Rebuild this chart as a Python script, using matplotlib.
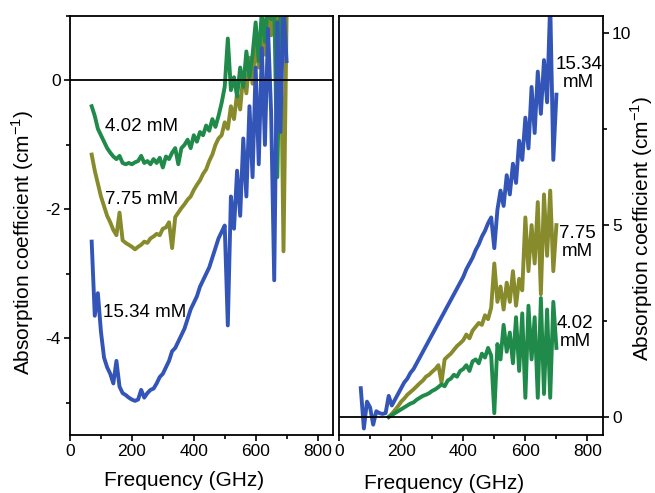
import numpy as np
import matplotlib
matplotlib.use("Agg")
import matplotlib.pyplot as plt
from matplotlib.ticker import MultipleLocator

plt.rcParams['font.family'] = ['Liberation Sans', 'DejaVu Sans']
plt.rcParams['mathtext.fontset'] = 'custom'
plt.rcParams['mathtext.rm'] = 'Liberation Sans'
plt.rcParams['axes.unicode_minus'] = False

# frequency grid (GHz)
freq = np.arange(70, 701, 10)

# left panel: absorption change, cm^-1
left_402 = [-0.40, -0.55, -0.75, -0.85, -0.95, -1.05, -1.12, -1.18, -1.22, -1.17,
            -1.28, -1.30, -1.28, -1.30, -1.27, -1.25, -1.17, -1.28, -1.25, -1.30,
            -1.22, -1.28, -1.20, -1.35, -1.18, -1.22, -1.12, -1.05, -1.30, -1.05,
            -1.00, -0.92, -1.05, -0.85, -0.95, -0.80, -0.85, -0.70, -0.78, -0.60,
            -0.72, -0.55, -0.35, -0.10, 0.65, -0.15, 0.05, -0.25, 0.20, -0.10,
            0.45, 0.05, 0.40, 0.90, 0.30, 1.10, 0.60, 1.20, 0.95, 1.20,
            -1.50, 1.20, 1.30, 1.30]
left_775 = [-1.15, -1.40, -1.60, -1.80, -1.95, -2.10, -2.20, -2.32, -2.40, -2.05,
            -2.48, -2.52, -2.55, -2.58, -2.62, -2.58, -2.55, -2.50, -2.52, -2.45,
            -2.42, -2.38, -2.40, -2.30, -2.28, -2.20, -2.60, -2.12, -2.05, -1.98,
            -1.92, -1.85, -1.80, -1.70, -1.62, -1.55, -1.45, -1.38, -1.25, -1.15,
            -1.00, -0.90, -0.85, -0.65, -0.75, -0.40, -0.60, -0.20, -0.45, 0.10,
            -0.20, 0.35, -0.05, 0.60, 0.20, 0.90, 0.40, 1.10, 0.70, 1.20,
            0.80, 1.20, -2.65, 1.00]
left_1534 = [-2.50, -3.65, -3.30, -3.90, -4.30, -4.45, -4.55, -4.70, -4.35, -4.75,
             -4.85, -4.88, -4.92, -4.95, -4.97, -4.95, -4.80, -4.92, -4.85, -4.80,
             -4.78, -4.70, -4.60, -4.55, -4.45, -4.35, -4.20, -4.15, -4.05, -3.95,
             -3.85, -3.70, -3.55, -3.45, -3.35, -3.20, -3.10, -3.00, -2.90, -2.75,
             -2.60, -2.45, -2.35, -2.25, -3.80, -1.80, -2.30, -1.40, -2.10, -0.90,
             -1.80, -0.40, -1.50, 0.20, -1.30, 0.50, -1.00, 0.80, -0.50, -3.10,
             0.90, -0.80, 1.20, 0.30]

# right panel: absorption, cm^-1
nan = np.nan
right_402 = [nan] * 9 + [
    0.00, 0.05, 0.10, 0.15, 0.20, 0.25, 0.30, 0.35, 0.38, 0.45,
    0.50, 0.55, 0.58, 0.62, 0.68, 0.72, 0.78, 0.85, 0.80, 0.95,
    1.00, 1.10, 1.05, 1.20, 1.25, 1.35, 1.20, 1.45, 1.50, 1.40,
    1.65, 1.55, 1.80, 1.60, 0.10, 1.90, 1.50, 2.40, 1.70, 2.20,
    1.40, 2.60, 1.20, 2.70, 0.50, 2.90, 1.50, 2.60, 0.50, 3.10,
    0.60, 2.80, 0.50, 3.00, 1.80]
right_775 = [nan] * 9 + [
    0.00, 0.08, 0.18, 0.28, 0.40, 0.48, 0.58, 0.65, 0.72, 0.80,
    0.88, 0.95, 1.05, 1.10, 1.18, 1.25, 1.35, 0.90, 1.50, 1.58,
    1.65, 1.75, 1.85, 1.92, 2.00, 2.15, 2.05, 2.25, 2.35, 2.45,
    2.40, 2.65, 2.55, 2.85, 4.00, 3.00, 3.40, 2.80, 3.50, 3.00,
    3.80, 2.90, 3.60, 3.30, 5.20, 3.80, 5.00, 4.00, 5.60, 3.20,
    5.80, 4.20, 5.90, 3.80, 5.00]
right_1534 = [0.75, -0.30, 0.40, 0.25, -0.20, 0.15, 0.10, 0.08, 0.10, 0.55,
              0.30, 0.45, 0.60, 0.75, 0.90, 1.00, 1.15, 1.25, 1.40, 1.55,
              1.70, 1.85, 2.00, 2.15, 2.30, 2.45, 2.60, 2.75, 2.90, 3.05,
              3.20, 3.35, 3.50, 3.65, 3.85, 4.00, 4.15, 4.35, 4.50, 4.70,
              4.85, 5.05, 5.20, 4.40, 5.40, 5.90, 5.50, 6.30, 5.80, 6.60,
              6.10, 7.20, 6.70, 7.80, 7.00, 8.60, 7.40, 9.00, 7.90, 9.30,
              8.20, 10.80, 6.70, 8.40]

c_green = '#1f8a4a'
c_olive = '#878b2c'
c_blue = '#3455b8'

fig = plt.figure(figsize=(6.55, 4.93), dpi=100)
ax1 = fig.add_axes([0.1069, 0.1176, 0.4015, 0.85])
ax2 = fig.add_axes([0.5176, 0.1176, 0.4030, 0.85])

lw = 2.8
ax1.plot(freq, left_775, color=c_olive, lw=lw)
ax1.plot(freq, left_402, color=c_green, lw=lw)
ax1.plot(freq, left_1534, color=c_blue, lw=lw)
ax2.plot(freq, right_775, color=c_olive, lw=lw)
ax2.plot(freq, right_402, color=c_green, lw=lw)
ax2.plot(freq, right_1534, color=c_blue, lw=lw)

for ax in (ax1, ax2):
    ax.axhline(0, color='black', lw=1.3, zorder=5)
    ax.set_xlim(0, 850)
    ax.xaxis.set_major_locator(MultipleLocator(200))
    ax.xaxis.set_minor_locator(MultipleLocator(100))
    for s in ax.spines.values():
        s.set_linewidth(1.3)
    ax.tick_params(which='both', direction='out', width=1.2, labelsize=12.5, pad=2.5)
    ax.tick_params(which='major', length=4)
    ax.tick_params(which='minor', length=3)
    ax.set_xlabel('Frequency (GHz)', fontsize=15)

ax1.set_ylim(-5.5, 1.0)
ax1.yaxis.set_major_locator(MultipleLocator(2))
ax1.yaxis.set_minor_locator(MultipleLocator(1))
ax1.set_ylabel(r'Absorption coefficient (cm$^{\mathrm{-1}}$)', fontsize=15)
ax1.yaxis.set_label_coords(-0.128, 0.46)
ax1.xaxis.set_label_coords(0.433, -0.085)

ax2.set_ylim(-0.47, 10.45)
ax2.yaxis.set_major_locator(MultipleLocator(5))
ax2.yaxis.set_minor_locator(MultipleLocator(2.5))
ax2.yaxis.tick_right()
ax2.yaxis.set_label_position('right')
ax2.set_ylabel(r'Absorption coefficient (cm$^{\mathrm{-1}}$)', fontsize=15)
ax2.yaxis.set_label_coords(1.095, 0.494)
ax2.xaxis.set_label_coords(0.398, -0.093)

# curve labels
ax1.text(113, -0.72, '4.02 mM', fontsize=13.5, va='center')
ax1.text(113, -1.85, '7.75 mM', fontsize=13.5, va='center')
ax1.text(107, -3.60, '15.34 mM', fontsize=13.5, va='center')
ax2.text(772, 8.95, '15.34\nmM', fontsize=13.5, va='center', ha='center', linespacing=1.1)
ax2.text(766, 4.55, '7.75\nmM', fontsize=13.5, va='center', ha='center', linespacing=1.1)
ax2.text(760, 2.2, '4.02\nmM', fontsize=13.5, va='center', ha='center', linespacing=1.1)

fig.savefig('out.png', dpi=100)
